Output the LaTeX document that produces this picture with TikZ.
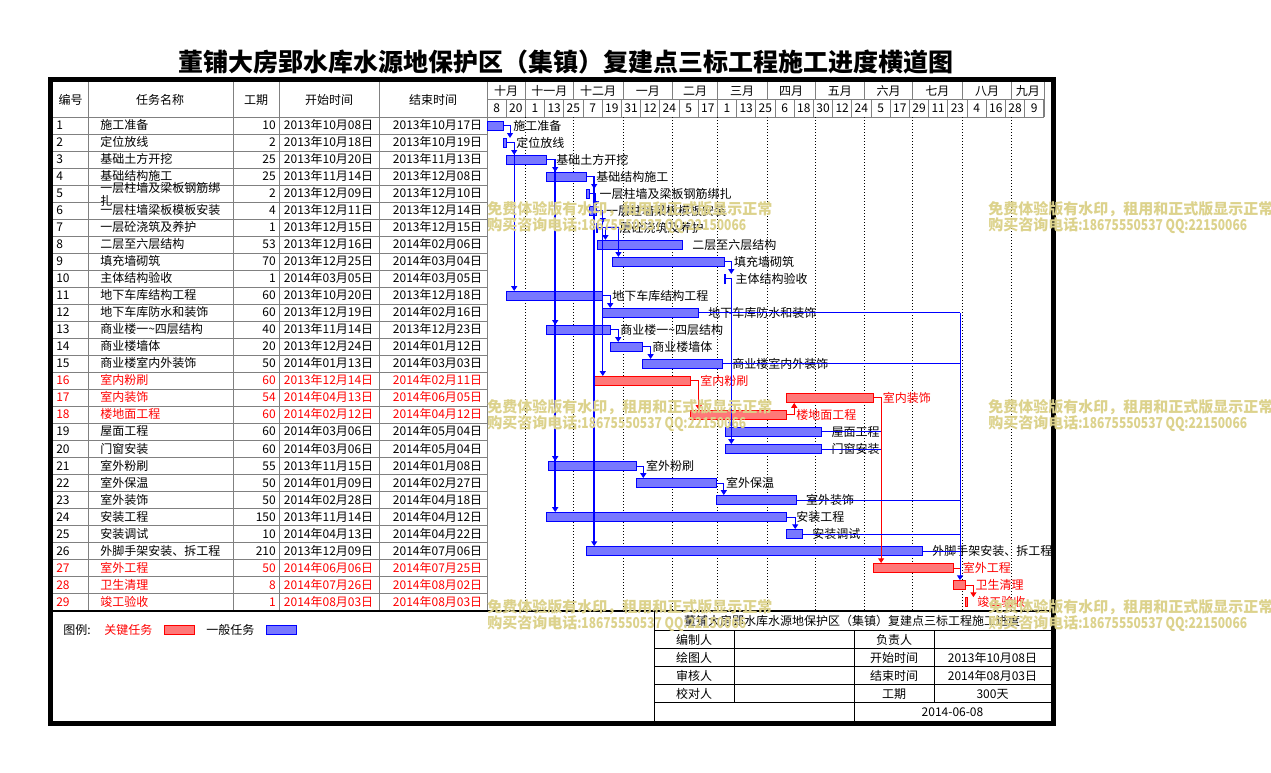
\documentclass[tikz,border=0pt]{standalone}
\usepackage{fontspec}
\setmainfont{Noto Sans CJK SC}
\usetikzlibrary{calc,arrows.meta}
\definecolor{colb}{RGB}{0,0,255}
\definecolor{colbf}{RGB}{120,120,255}
\definecolor{colr}{RGB}{255,0,0}
\definecolor{colrf}{RGB}{255,120,120}
\definecolor{tcb}{RGB}{0,0,0}
\definecolor{tcr}{RGB}{255,0,0}
\definecolor{gridc}{RGB}{128,128,128}
\definecolor{wmc}{RGB}{220,210,140}
\tikzset{
  every node/.style={inner sep=0pt, font=\fontsize{9pt}{9.75pt}\selectfont},
  tx/.style={text=tc#1, text height=7.4pt, text depth=1.4pt},
  tx/.default=b,
  bar/.style={draw=col#1, fill=col#1f, line width=0.75pt, minimum height=6.75pt, anchor=west, inner sep=0pt},
  gridl/.style={draw=gridc, line width=0.75pt},
  blk/.style={draw=black, line width=0.75pt},
  dotl/.style={draw=black, line width=0.75pt, dash pattern=on 0.75pt off 1.5pt},
  lk/.style={draw=col#1, line width=0.75pt},
  lk/.default=b,
  lka/.style={lk=#1, -{Triangle[length=3.6pt,width=4.5pt]}},
  lka/.default=b,
  trunk/.style={line width=1.3pt},
  wmk/.style={anchor=west, text=wmc, font=\fontsize{11.25pt}{12pt}\selectfont\bfseries},
  ttl/.style={font=\fontsize{18.75pt}{20pt}\selectfont\bfseries},
}
\begin{document}
\begin{tikzpicture}[x=0.75pt,y=-0.75pt]
\useasboundingbox (0,0) rectangle (1271,772);

% title
\node[ttl] (title) at (566,62) {董铺大房郢水库水源地保护区（集镇）复建点三标工程施工进度横道图};

% ---------- grid ----------
\foreach \r in {1,...,28}
  \draw[gridl] (53,{117.3+17.01*\r}) -- (487,{117.3+17.01*\r});
\draw[gridl] (53,117.3) -- (1044,117.3);
\draw[gridl] (487,99.5) -- (1044,99.5);
\foreach \vx in {88,233,279,379,487}
  \draw[gridl] (\vx,82) -- (\vx,610.8);
\draw[gridl] (1044,82) -- (1044,117.3);

% month row
\foreach \ma/\mb/\mt [count=\mi] in {487/525.4/十月, 525.4/573.4/十一月, 573.4/623/十二月, 623/672.6/一月, 672.6/717.4/二月, 717.4/767/三月, 767/815/四月, 815/864.6/五月, 864.6/912.6/六月, 912.6/962.2/七月, 962.2/1011.8/八月, 1011.8/1044/九月}{
  \node[tx] (m\mi) at ({(\ma+\mb)/2},91) {\mt};
  \draw[gridl] (\mb,82) -- (\mb,99.5);
}
% day row
\foreach \dt [count=\di] in {8,20,1,13,25,7,19,31,12,24,5,17,1,13,25,6,18,30,12,24,5,17,29,11,23,4,16,28,9}{
  \node[tx] (dd\di) at ({487+19.2*(\di-0.5)},108.6) {\dt};
  \draw[gridl] ({487+19.2*\di},99.5) -- ({487+19.2*\di},117.3);
}
% month dotted lines
\foreach \mx in {525.4,573.4,623,672.6,717.4,767,815,864.6,912.6,962.2,1011.8}
  \draw[dotl] (\mx,117.3) -- (\mx,610.8);

% header texts
\node[tx] (h1) at (70.5,100) {编号};
\node[tx] (h2) at (160,100) {任务名称};
\node[tx] (h3) at (256,100) {工期};
\node[tx] (h4) at (329,100) {开始时间};
\node[tx] (h5) at (433,100) {结束时间};

% ---------- table rows ----------
\foreach \ri/\rn/\rd/\rs/\re/\rk in {
1/施工准备/10/2013年10月08日/2013年10月17日/b,
2/定位放线/2/2013年10月18日/2013年10月19日/b,
3/基础土方开挖/25/2013年10月20日/2013年11月13日/b,
4/基础结构施工/25/2013年11月14日/2013年12月08日/b,
5/{}/2/2013年12月09日/2013年12月10日/b,
6/一层柱墙梁板模板安装/4/2013年12月11日/2013年12月14日/b,
7/一层砼浇筑及养护/1/2013年12月15日/2013年12月15日/b,
8/二层至六层结构/53/2013年12月16日/2014年02月06日/b,
9/填充墙砌筑/70/2013年12月25日/2014年03月04日/b,
10/主体结构验收/1/2014年03月05日/2014年03月05日/b,
11/地下车库结构工程/60/2013年10月20日/2013年12月18日/b,
12/地下车库防水和装饰/60/2013年12月19日/2014年02月16日/b,
13/{商业楼一\char"7E四层结构}/40/2013年11月14日/2013年12月23日/b,
14/商业楼墙体/20/2013年12月24日/2014年01月12日/b,
15/商业楼室内外装饰/50/2014年01月13日/2014年03月03日/b,
16/室内粉刷/60/2013年12月14日/2014年02月11日/r,
17/室内装饰/54/2014年04月13日/2014年06月05日/r,
18/楼地面工程/60/2014年02月12日/2014年04月12日/r,
19/屋面工程/60/2014年03月06日/2014年05月04日/b,
20/门窗安装/60/2014年03月06日/2014年05月04日/b,
21/室外粉刷/55/2013年11月15日/2014年01月08日/b,
22/室外保温/50/2014年01月09日/2014年02月27日/b,
23/室外装饰/50/2014年02月28日/2014年04月18日/b,
24/安装工程/150/2013年11月14日/2014年04月12日/b,
25/安装调试/10/2014年04月13日/2014年04月22日/b,
26/外脚手架安装、拆工程/210/2013年12月09日/2014年07月06日/b,
27/室外工程/50/2014年06月06日/2014年07月25日/r,
28/卫生清理/8/2014年07月26日/2014年08月02日/r,
29/竣工验收/1/2014年08月03日/2014年08月03日/r}{
  \pgfmathsetmacro\ry{117.3+17.01*(\ri-0.5)}
  \node[tx=\rk, anchor=west] (n\ri) at (56,\ry) {\ri};
  \node[tx=\rk, anchor=west] (t\ri) at (100,\ry) {\rn};
  \node[tx=\rk, anchor=east] (d\ri) at (276,\ry) {\rd};
  \node[tx=\rk, anchor=east] (s\ri) at (373.5,\ry) {\rs};
  \node[tx=\rk, anchor=east] (e\ri) at (482.5,\ry) {\re};
}
\node[tx, anchor=west] (t5a) at (100,188.5) {一层柱墙及梁板钢筋绑};
\node[tx, anchor=west] (t5b) at (100,201) {扎};

% ---------- bars and labels ----------
\foreach \bi/\bs/\be/\bk/\bt in {
1/0/10/b/施工准备,
2/10/12/b/定位放线,
3/12/37/b/基础土方开挖,
4/37/62/b/基础结构施工,
5/62/64/b/一层柱墙及梁板钢筋绑扎,
6/64/68/b/一层柱墙梁板模板安装,
7/68/69/b/一层砼浇筑及养护,
8/69/122/b/二层至六层结构,
9/78/148/b/填充墙砌筑,
10/148/149/b/主体结构验收,
11/12/72/b/地下车库结构工程,
12/72/132/b/地下车库防水和装饰,
13/37/77/b/{商业楼一\char"7E四层结构},
14/77/97/b/商业楼墙体,
15/97/147/b/商业楼室内外装饰,
16/67/127/r/室内粉刷,
17/187/241/r/室内装饰,
18/127/187/r/楼地面工程,
19/149/209/b/屋面工程,
20/149/209/b/门窗安装,
21/38/93/b/室外粉刷,
22/93/143/b/室外保温,
23/143/193/b/室外装饰,
24/37/187/b/安装工程,
25/187/197/b/安装调试,
26/62/272/b/外脚手架安装、拆工程,
27/241/291/r/室外工程,
28/291/299/r/卫生清理,
29/299/300/r/竣工验收}{
  \pgfmathsetmacro\bx{487+1.6*\bs}
  \pgfmathsetmacro\by{117.3+17.01*(\bi-0.5)}
  \pgfmathsetmacro\bw{1.2*(\be-\bs)}
  \node[bar=\bk, minimum width=\bw pt] (b\bi) at (\bx,\by) {};
  \node[tx=\bk, anchor=west] (l\bi) at ($(b\bi.east)+(9,0.6)$) {\bt};
}

% ---------- links ----------
\draw[lka] (b1.east) -- ++(6,0) coordinate (c1) -- (c1 |- b2.north);
\draw[lka] (b2.east) -- ++(7,0) coordinate (c2) -- (c2 |- b3.north);
\draw[lka] (c2) -- (c2 |- b11.north);
\draw[lka] (b3.east) -- ++(8,0) coordinate (c3) -- (c3 |- b4.north);
\draw[lka,trunk] (c3) -- (c3 |- b13.north);
\draw[lka,trunk] (c3) -- (c3 |- b21.north);
\draw[lka,trunk] (c3) -- (c3 |- b24.north);
\draw[lka] (b4.east) -- ++(7,0) coordinate (c4) -- (c4 |- b5.north);
\draw[lka,trunk] (c4) -- (c4 |- b26.north);
\draw[lka] (b5.east) -- ++(5.5,0) coordinate (c5) -- (c5 |- b6.north);
\draw[lka] (b6.east) -- ++(6,0) coordinate (c6) -- (c6 |- b7.north);
\draw[lka] (c6) -- (c6 |- b16.north);
\draw[lka] (b7.east) -- ++(7,0) coordinate (c7) -- (c7 |- b8.north);
\draw[lka] (c7) -- ++(13,0) coordinate (c7b) -- (c7b |- b9.north);
\draw[lka] (b9.east) -- ++(6.5,0) coordinate (c9) -- (c9 |- b10.north);
\draw[lka] (b10.east) -- (b10.east -| c9) coordinate (c10) -- (c10 |- b19.north);
\draw[lka] (c10) -- (c10 |- b20.north);
\draw[lka] (b11.east) -- ++(7,0) coordinate (c11) -- (c11 |- b12.north);
\draw[lka] (b13.east) -- ++(7,0) coordinate (c13) -- (c13 |- b14.north);
\draw[lka] (b14.east) -- ++(7.4,0) coordinate (c14) -- (c14 |- b15.north);
\draw[lka=r] (b16.east) -- ++(7.5,0) coordinate (c16) -- (c16 |- b18.north);
\draw[lka=r] (b18.east) -- ++(7,0) coordinate (c18) -- (c18 |- b17.south);
\draw[lka=r] (b17.east) -- ++(7.5,0) coordinate (c17) -- (c17 |- b27.north);
\draw[lk] (b19.east) -- (b19.east -| c17);
\draw[lk] (b20.east) -- (b20.east -| c17);
\draw[lka] (b21.east) -- ++(6.5,0) coordinate (c21) -- (c21 |- b22.north);
\draw[lka] (b22.east) -- ++(7,0) coordinate (c22) -- (c22 |- b23.north);
\draw[lka] (b24.east) -- ++(8,0) coordinate (c24) -- (c24 |- b25.north);
\coordinate (jx) at (960,0);
\draw[lk] (b12.east) -- (b12.east -| jx) coordinate (j12);
\draw[lka] (j12) -- (j12 |- b28.north);
\draw[lk] (b15.east) -- (b15.east -| jx);
\draw[lk] (b23.east) -- (b23.east -| jx);
\draw[lk] (b25.east) -- (b25.east -| jx);
\draw[lk] (b26.east) -- (b26.east -| jx);
\draw[lk=r] (b27.east) -- (b27.east -| jx);
\draw[lka=r] (b28.east) -- ++(7,0) coordinate (c28) -- (c28 |- b29.north);

% ---------- bottom line, title block ----------
\draw[line width=1.1pt] (53,610.8) -- (1051,610.8);
\draw[blk] (654,610.8) -- (654,721);
\foreach \hy in {630.7,648.7,666.7,684.7,702.5}
  \draw[blk] (654,\hy) -- (1051,\hy);
\draw[blk] (734,630.7) -- (734,702.5);
\draw[blk] (854,630.7) -- (854,721);
\draw[blk] (934,630.7) -- (934,702.5);
\node[tx] (tb0) at (852,621) {董铺大房郢水库水源地保护区（集镇）复建点三标工程施工进度};
\node[tx] (tbl1) at (694,640) {编制人};
\node[tx] (tbl2) at (694,658) {绘图人};
\node[tx] (tbl3) at (694,676) {审核人};
\node[tx] (tbl4) at (694,694) {校对人};
\node[tx] (tbr1) at (894,640) {负责人};
\node[tx] (tbr2) at (894,658) {开始时间};
\node[tx] (tbr3) at (894,676) {结束时间};
\node[tx] (tbr4) at (894,694) {工期};
\node[tx] (tbv2) at (992.5,658) {2013年10月08日};
\node[tx] (tbv3) at (992.5,676) {2014年08月03日};
\node[tx] (tbv4) at (992.5,694) {300天};
\node[tx] (tbd) at (952.5,712) {2014-06-08};

% ---------- legend ----------
\node[tx, anchor=west] (lg) at (63,630.5) {图例:};
\node[tx=r, anchor=west] (lgk) at (104,630.5) {关键任务};
\node[bar=r, minimum width=22.5pt] (lgr) at (164,629.8) {};
\node[tx, anchor=west] (lgn) at (206,630.5) {一般任务};
\node[bar=b, minimum width=22.5pt] (lgb) at (266,629.8) {};

% ---------- frame ----------
\draw[line width=3.75pt] (50.5,79.5) rectangle (1053.5,723.5);

% ---------- watermarks ----------
\foreach \wx/\wy [count=\w] in {487/209, 988/209, 487/407, 988/407, 487/607, 988/607}{
  \node[wmk] (wa\w) at (\wx,\wy) {免费体验版有水印，租用和正式版显示正常};
  \node[wmk] (wb\w) at (\wx,\wy+17) {购买咨询电话\scalebox{0.8}[1]{:18675550537 QQ:22150066}};
}
\end{tikzpicture}
\end{document}
